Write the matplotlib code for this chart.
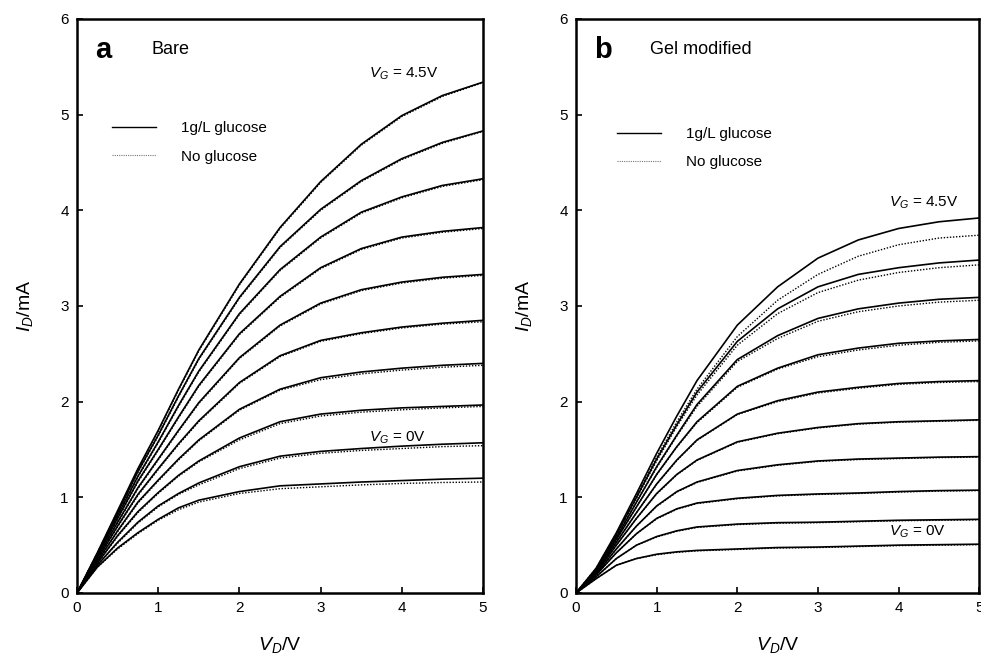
# %% Transistor output curves, bare vs gel modified
import matplotlib
matplotlib.use('Agg')
import matplotlib.pyplot as plt
import numpy as np

plt.rcParams['font.family'] = ['Liberation Sans', 'DejaVu Sans']
plt.rcParams['mathtext.fontset'] = 'custom'
plt.rcParams['mathtext.rm'] = 'Liberation Sans'
plt.rcParams['mathtext.it'] = 'Liberation Sans:italic'

# %% Data
# drain voltage sample points (V)
vd = [0, 0.25, 0.5, 0.75, 1, 1.25, 1.5, 2, 2.5, 3, 3.5, 4, 4.5, 5]
# gate voltages, one row per curve in the tables below
vg = [0, 0.5, 1.0, 1.5, 2.0, 2.5, 3.0, 3.5, 4.0, 4.5]

# panel a (bare), 1 g/L glucose, I_D in mA
bare_glucose = [
    [0, 0.27, 0.47, 0.63, 0.77, 0.89, 0.97, 1.06, 1.12, 1.14, 1.16, 1.175, 1.19, 1.20],
    [0, 0.29, 0.53, 0.74, 0.91, 1.04, 1.15, 1.32, 1.43, 1.48, 1.51, 1.535, 1.555, 1.57],
    [0, 0.31, 0.60, 0.85, 1.05, 1.23, 1.38, 1.62, 1.79, 1.87, 1.91, 1.935, 1.95, 1.965],
    [0, 0.33, 0.65, 0.95, 1.18, 1.40, 1.60, 1.92, 2.13, 2.25, 2.31, 2.35, 2.38, 2.40],
    [0, 0.35, 0.70, 1.03, 1.30, 1.56, 1.80, 2.20, 2.48, 2.64, 2.72, 2.78, 2.82, 2.85],
    [0, 0.37, 0.74, 1.10, 1.40, 1.70, 1.99, 2.46, 2.80, 3.03, 3.17, 3.25, 3.30, 3.33],
    [0, 0.39, 0.78, 1.17, 1.50, 1.84, 2.17, 2.71, 3.10, 3.40, 3.60, 3.72, 3.78, 3.82],
    [0, 0.40, 0.81, 1.22, 1.58, 1.96, 2.32, 2.92, 3.38, 3.72, 3.98, 4.14, 4.26, 4.33],
    [0, 0.41, 0.84, 1.27, 1.65, 2.06, 2.45, 3.09, 3.62, 4.01, 4.31, 4.54, 4.71, 4.83],
    [0, 0.42, 0.86, 1.30, 1.70, 2.13, 2.54, 3.23, 3.82, 4.30, 4.69, 4.99, 5.20, 5.34],
]
# panel a (bare), no glucose
bare_none = [
    [0, 0.27, 0.46, 0.62, 0.76, 0.87, 0.95, 1.04, 1.09, 1.11, 1.13, 1.145, 1.155, 1.16],
    [0, 0.29, 0.52, 0.73, 0.90, 1.03, 1.13, 1.30, 1.41, 1.46, 1.49, 1.51, 1.53, 1.54],
    [0, 0.31, 0.59, 0.84, 1.04, 1.22, 1.37, 1.60, 1.77, 1.85, 1.89, 1.915, 1.935, 1.95],
    [0, 0.33, 0.64, 0.94, 1.17, 1.39, 1.59, 1.91, 2.12, 2.23, 2.29, 2.33, 2.36, 2.38],
    [0, 0.35, 0.69, 1.02, 1.29, 1.55, 1.79, 2.19, 2.47, 2.63, 2.71, 2.77, 2.81, 2.835],
    [0, 0.37, 0.73, 1.09, 1.39, 1.69, 1.98, 2.45, 2.79, 3.02, 3.16, 3.24, 3.29, 3.32],
    [0, 0.39, 0.77, 1.16, 1.49, 1.83, 2.16, 2.70, 3.09, 3.39, 3.59, 3.71, 3.77, 3.81],
    [0, 0.40, 0.80, 1.21, 1.57, 1.95, 2.31, 2.91, 3.37, 3.71, 3.97, 4.13, 4.25, 4.32],
    [0, 0.41, 0.83, 1.26, 1.64, 2.05, 2.44, 3.08, 3.61, 4.00, 4.30, 4.53, 4.70, 4.825],
    [0, 0.42, 0.85, 1.29, 1.69, 2.12, 2.53, 3.22, 3.81, 4.29, 4.68, 4.98, 5.19, 5.335],
]
# panel b (gel modified), 1 g/L glucose
gel_glucose = [
    [0, 0.15, 0.29, 0.36, 0.405, 0.43, 0.445, 0.46, 0.475, 0.48, 0.49, 0.50, 0.505, 0.51],
    [0, 0.17, 0.36, 0.50, 0.59, 0.65, 0.69, 0.72, 0.735, 0.74, 0.75, 0.76, 0.765, 0.77],
    [0, 0.19, 0.42, 0.62, 0.78, 0.88, 0.94, 0.99, 1.02, 1.035, 1.045, 1.06, 1.07, 1.075],
    [0, 0.20, 0.46, 0.70, 0.91, 1.06, 1.16, 1.28, 1.34, 1.38, 1.40, 1.41, 1.42, 1.425],
    [0, 0.21, 0.50, 0.78, 1.04, 1.24, 1.39, 1.58, 1.67, 1.73, 1.77, 1.79, 1.80, 1.81],
    [0, 0.22, 0.53, 0.84, 1.14, 1.39, 1.60, 1.87, 2.01, 2.10, 2.15, 2.19, 2.21, 2.22],
    [0, 0.23, 0.56, 0.90, 1.24, 1.53, 1.79, 2.16, 2.35, 2.49, 2.56, 2.61, 2.635, 2.65],
    [0, 0.24, 0.58, 0.95, 1.32, 1.65, 1.97, 2.44, 2.69, 2.87, 2.97, 3.03, 3.07, 3.09],
    [0, 0.25, 0.61, 1.00, 1.40, 1.76, 2.10, 2.63, 2.97, 3.20, 3.33, 3.40, 3.45, 3.48],
    [0, 0.26, 0.63, 1.04, 1.46, 1.85, 2.22, 2.80, 3.20, 3.50, 3.69, 3.81, 3.88, 3.92],
]
# panel b (gel modified), no glucose
gel_none = [
    [0, 0.15, 0.29, 0.36, 0.40, 0.425, 0.44, 0.455, 0.47, 0.475, 0.485, 0.495, 0.50, 0.505],
    [0, 0.17, 0.36, 0.50, 0.585, 0.645, 0.685, 0.715, 0.73, 0.735, 0.745, 0.755, 0.76, 0.765],
    [0, 0.19, 0.42, 0.62, 0.775, 0.875, 0.935, 0.985, 1.015, 1.03, 1.04, 1.055, 1.065, 1.07],
    [0, 0.20, 0.46, 0.70, 0.905, 1.055, 1.155, 1.275, 1.335, 1.375, 1.395, 1.405, 1.415, 1.42],
    [0, 0.21, 0.50, 0.78, 1.035, 1.235, 1.385, 1.575, 1.665, 1.725, 1.765, 1.785, 1.795, 1.805],
    [0, 0.22, 0.53, 0.84, 1.135, 1.385, 1.595, 1.865, 2.00, 2.09, 2.14, 2.18, 2.20, 2.21],
    [0, 0.23, 0.56, 0.90, 1.235, 1.525, 1.78, 2.15, 2.34, 2.47, 2.54, 2.59, 2.62, 2.635],
    [0, 0.24, 0.58, 0.95, 1.31, 1.64, 1.95, 2.42, 2.66, 2.84, 2.94, 3.00, 3.04, 3.06],
    [0, 0.25, 0.60, 0.99, 1.38, 1.74, 2.07, 2.59, 2.92, 3.14, 3.27, 3.35, 3.40, 3.43],
    [0, 0.26, 0.62, 1.02, 1.42, 1.79, 2.13, 2.68, 3.06, 3.33, 3.52, 3.64, 3.71, 3.74],
]

xticks = [0, 1, 2, 3, 4, 5]
yticks = [0, 1, 2, 3, 4, 5, 6]
legend_labels = ['1g/L glucose', 'No glucose']

# %% Figure
fig = plt.figure(figsize=(9.81, 6.61), dpi=100)
ax_a = fig.add_axes([0.0785, 0.1029, 0.4139, 0.8684])
ax_b = fig.add_axes([0.5872, 0.1029, 0.4110, 0.8684])


def draw_panel(ax, solid, dotted, letter, title, leg_xy, top_xy, bot_xy):
    for i in range(len(vg)):
        ax.plot(vd, dotted[i], color='black', lw=1.0, ls=(0, (1, 1.2)))
        ax.plot(vd, solid[i], color='black', lw=1.2)
    ax.set_xlim(0, 5)
    ax.set_ylim(0, 6)
    ax.set_xticks(xticks)
    ax.set_yticks(yticks)
    ax.tick_params(direction='in', length=4, width=1.2, labelsize=11, pad=6)
    for s in ax.spines.values():
        s.set_linewidth(1.8)
    ax.set_xlabel(r'$V_D$/V', fontsize=14, labelpad=14)
    ax.set_ylabel(r'$I_D$/mA', fontsize=14, labelpad=18)
    ax.text(0.22, 5.68, letter, fontsize=21, fontweight='bold', va='center')
    ax.text(0.92, 5.68, title, fontsize=13, va='center')
    ax.text(top_xy[0], top_xy[1], r'$V_G$ = 4.5V', fontsize=11, va='center')
    ax.text(bot_xy[0], bot_xy[1], r'$V_G$ = 0V', fontsize=11, va='center')
    h_leg = ax.plot([], [], color='black', lw=1.0)[0]
    d_leg = ax.plot([], [], color='#777777', lw=0.8, ls=(0, (1, 1)))[0]
    ax.legend([h_leg, d_leg], legend_labels, loc='upper left',
              bbox_to_anchor=leg_xy, frameon=False, fontsize=11,
              handlelength=2.9, handletextpad=1.6, labelspacing=0.95,
              borderpad=0, borderaxespad=0)


draw_panel(ax_a, bare_glucose, bare_none, 'a', 'Bare',
           (0.086, 0.822), (3.6, 5.43), (3.6, 1.62))
draw_panel(ax_b, gel_glucose, gel_none, 'b', 'Gel modified',
           (0.101, 0.812), (3.88, 4.08), (3.88, 0.64))

fig.savefig('out.png', dpi=100)
